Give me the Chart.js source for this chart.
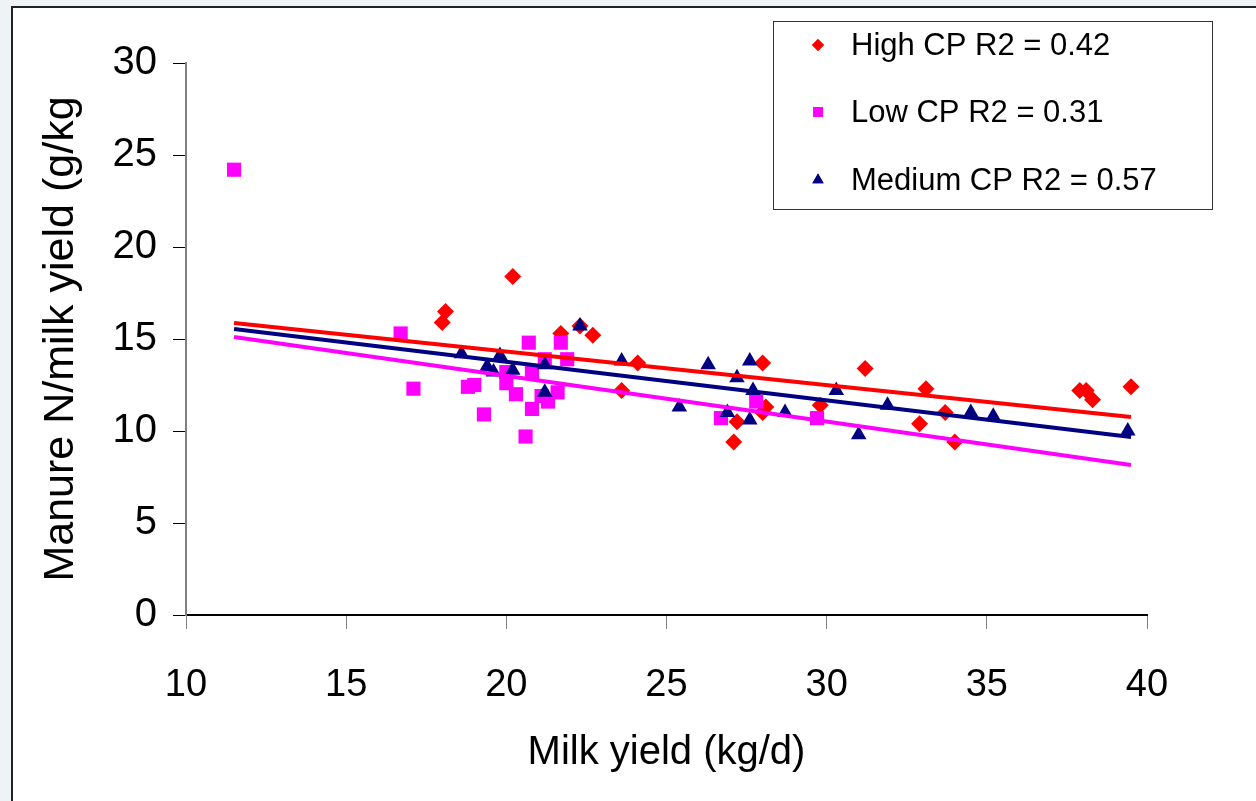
<!DOCTYPE html>
<html>
<head>
<meta charset="utf-8">
<script src="https://cdn.jsdelivr.net/npm/chart.js@4.4.0/dist/chart.umd.min.js"></script>
<style>
html, body { margin: 0; padding: 0; background: #eef3f6; }
#wrap { position: absolute; left: 0; top: 0; width: 1256px; height: 801px; }
</style>
</head>
<body>
<div id="wrap"><canvas id="scatterChart"></canvas></div>
<script>
var seriesLabels = ['High CP R2 = 0.42', 'Low CP R2 = 0.31', 'Medium CP R2 = 0.57'];
var xTitle = 'Milk yield (kg/d)';
var yTitle = 'Manure N/milk yield (g/kg';

// High CP
var highX = [18.1, 18.0, 20.2, 21.7, 22.3, 22.7, 23.6, 24.1, 28.0, 28.1, 28.0, 27.2, 27.1, 29.8, 31.2, 33.1, 32.9, 33.7, 34.0, 37.9, 38.1, 38.3, 39.5];
var highY = [16.5, 15.9, 18.4, 15.3, 15.7, 15.2, 12.2, 13.7, 13.7, 11.3, 11.0, 10.5, 9.4, 11.4, 13.4, 12.3, 10.4, 11.0, 9.4, 12.2, 12.2, 11.7, 12.4];

// Low CP
var lowX = [11.5, 16.7, 17.1, 18.8, 19.0, 19.3, 20.0, 20.0, 20.3, 20.6, 20.7, 20.8, 20.8, 21.1, 21.2, 21.3, 21.6, 21.7, 21.9, 26.7, 27.8, 29.7];
var lowY = [24.2, 15.3, 12.3, 12.4, 12.5, 10.9, 13.2, 12.6, 12.0, 9.7, 14.8, 13.2, 11.2, 11.9, 13.9, 11.6, 12.1, 14.8, 13.9, 10.7, 11.6, 10.7];

// Medium CP
var medX = [18.6, 19.4, 19.6, 19.8, 20.2, 21.2, 21.2, 22.3, 23.6, 25.4, 26.3, 26.9, 27.2, 27.6, 27.6, 27.7, 28.7, 30.3, 31.0, 31.9, 34.5, 35.2, 39.4];
var medY = [14.2, 13.5, 13.2, 14.1, 13.3, 13.6, 12.1, 15.7, 13.8, 11.3, 13.6, 11.0, 12.9, 13.8, 10.6, 12.2, 11.0, 12.2, 9.8, 11.4, 11.0, 10.8, 10.0];

// trend line ends
var trendX = [11.5, 39.5];
var highTrend = [15.87, 10.76];
var lowTrend = [15.11, 8.15];
var medTrend = [15.54, 9.67];

var xTicks = [10, 15, 20, 25, 30, 35, 40];
var yTicks = [0, 5, 10, 15, 20, 25, 30];

var colors = ['#ff0000', '#ff00ff', '#000080'];
var styles = ['rectRot', 'rect', 'triangle'];
var FONT = "'Liberation Sans', Arial, sans-serif";

function toPoints(xs, ys) {
    var pts = [];
    for (var i = 0; i < xs.length; i++) pts.push({x: xs[i], y: ys[i]});
    return pts;
}

function lineSet(ys, color) {
    return {
        type: 'line',
        data: toPoints(trendX, ys),
        borderColor: color,
        borderWidth: 4,
        pointRadius: 0,
        fill: false
    };
}

function pointSet(label, xs, ys, i, r) {
    return {
        label: label,
        data: toPoints(xs, ys),
        pointStyle: styles[i],
        pointRadius: r,
        pointHoverRadius: r,
        backgroundColor: colors[i],
        borderColor: colors[i],
        borderWidth: 0,
        showLine: false
    };
}

var backPlugin = {
    id: 'back',
    beforeDraw: function(chart) {
        var c = chart.ctx;
        c.save();
        c.fillStyle = '#eef3f6';
        c.fillRect(0, 0, chart.width, chart.height);
        c.fillStyle = '#ffffff';
        c.fillRect(12, 7, chart.width, chart.height);
        c.strokeStyle = '#222';
        c.lineWidth = 2;
        c.beginPath();
        c.moveTo(12, chart.height);
        c.lineTo(12, 7);
        c.lineTo(chart.width, 7);
        c.stroke();
        c.restore();
    }
};

var legendPlugin = {
    id: 'boxLegend',
    afterDraw: function(chart) {
        var c = chart.ctx;
        c.save();
        c.fillStyle = '#fff';
        c.fillRect(773, 21, 439, 188);
        c.strokeStyle = '#333';
        c.lineWidth = 1;
        c.strokeRect(773.5, 21.5, 439, 188);
        var rows = [45, 112, 180];
        var sizes = [6, 7, 6.5];
        for (var i = 0; i < seriesLabels.length; i++) {
            c.fillStyle = colors[i];
            Chart.helpers.drawPoint(c, {pointStyle: styles[i], radius: sizes[i], rotation: 0, borderWidth: 0}, 818, rows[i]);
            c.fill();
            c.fillStyle = '#000';
            c.font = '31px ' + FONT;
            c.textBaseline = 'middle';
            c.fillText(seriesLabels[i], 851, rows[i] + 1);
        }
        c.restore();
    }
};

var ctx = document.getElementById('scatterChart').getContext('2d');
var scatterChart = new Chart(ctx, {
    type: 'scatter',
    data: {
        datasets: [
            lineSet(highTrend, colors[0]),
            lineSet(medTrend, colors[2]),
            lineSet(lowTrend, colors[1]),
            pointSet(seriesLabels[2], medX, medY, 2, 9),
            pointSet(seriesLabels[1], lowX, lowY, 1, 10),
            pointSet(seriesLabels[0], highX, highY, 0, 8.5)
        ]
    },
    options: {
        responsive: true,
        maintainAspectRatio: false,
        animation: false,
        layout: { padding: { top: 63, right: 109, left: 0, bottom: 0 } },
        plugins: {
            legend: { display: false },
            tooltip: { enabled: false }
        },
        scales: {
            x: {
                type: 'linear',
                min: 10,
                max: 40,
                afterBuildTicks: function(s) { s.ticks = xTicks.map(function(v) { return {value: v}; }); },
                afterFit: function(s) { s.height = 186; },
                border: { color: '#000', width: 2 },
                grid: { drawOnChartArea: false, tickLength: 14, tickColor: '#808080', tickWidth: 1 },
                ticks: { color: '#000', padding: 34, maxRotation: 0, font: { family: FONT, size: 38 } },
                title: { display: true, text: xTitle, color: '#000', padding: { bottom: 24 }, font: { family: FONT, size: 40 } }
            },
            y: {
                type: 'linear',
                min: 0,
                max: 30,
                afterBuildTicks: function(s) { s.ticks = yTicks.map(function(v) { return {value: v}; }); },
                afterFit: function(s) { s.width = 186; },
                border: { color: '#808080', width: 2 },
                grid: { drawOnChartArea: false, tickLength: 13, tickColor: '#000', tickWidth: 1 },
                ticks: { color: '#000', padding: 16, font: { family: FONT, size: 40 } },
                title: { display: true, text: yTitle, color: '#000', padding: { top: 35 }, font: { family: FONT, size: 43 } }
            }
        }
    },
    plugins: [backPlugin, legendPlugin]
});
</script>
</body>
</html>
